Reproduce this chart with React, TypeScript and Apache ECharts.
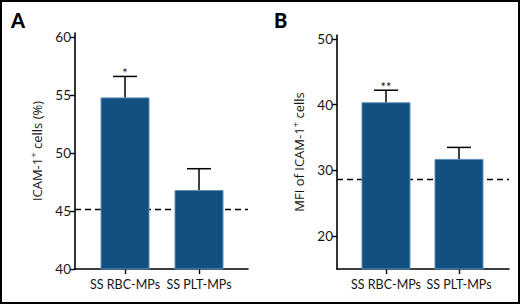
import React, { useEffect, useRef } from "react";
import * as echarts from "echarts";

const categories = ["SS RBC-MPs", "SS PLT-MPs"];
const meansA = [54.82, 46.82];
const errTopA = [56.63, 48.66];
const baselineA = 45.18;
const starsA = ["*", ""];
const ticksA = [40, 45, 50, 55, 60];

const meansB = [40.37, 31.75];
const errTopB = [42.2, 33.5];
const baselineB = 28.6;
const starsB = ["**", ""];
const ticksB = [20, 30, 40, 50];

const barColor = "#12507f";
const tickFont = "Lato, 'Open Sans', sans-serif";
const nameFont = "'Open Sans', 'Noto Sans', sans-serif";
const ink = "#151515";

function makeErrSeries(idx: number, means: number[], tops: number[], stars: string[]) {
  return {
    type: "custom",
    xAxisIndex: idx,
    yAxisIndex: idx,
    z: 5,
    data: means.map((m, i) => [i, m, tops[i]]),
    renderItem: (params: any, api: any) => {
      const x = api.value(0);
      const p1 = api.coord([x, api.value(1)]);
      const p2 = api.coord([x, api.value(2)]);
      const children: any[] = [
        { type: "line", shape: { x1: p1[0], y1: p1[1], x2: p2[0], y2: p2[1] }, style: { stroke: "#000", lineWidth: 1.5 } },
        { type: "line", shape: { x1: p2[0] - 12, y1: p2[1], x2: p2[0] + 12, y2: p2[1] }, style: { stroke: "#000", lineWidth: 1.5 } },
      ];
      const s = stars[params.dataIndex];
      if (s) {
        children.push({
          type: "text",
          x: p2[0],
          y: p2[1] + 3,
          style: { text: s, fill: ink, font: `13px ${tickFont}`, align: "center", verticalAlign: "bottom" },
        });
      }
      return { type: "group", children };
    },
  };
}

function makeBaseline(idx: number, v: number) {
  return {
    type: "line",
    xAxisIndex: idx,
    yAxisIndex: idx,
    z: 1,
    data: [],
    markLine: {
      z: 1,
      silent: true,
      symbol: "none",
      label: { show: false },
      lineStyle: { color: "#000", type: [6, 4], width: 1.3 },
      data: [{ yAxis: v }],
    },
  };
}

function makeBars(idx: number, means: number[]) {
  return {
    type: "bar",
    xAxisIndex: idx,
    yAxisIndex: idx,
    z: 2,
    barWidth: 49,
    data: means.map((m, i) => [i, m]),
    itemStyle: { color: barColor, borderColor: "#5d8fbf", borderWidth: 1 },
  };
}

function xAxisCfg(idx: number, min: number, max: number) {
  return {
    type: "value",
    gridIndex: idx,
    min,
    max,
    splitLine: { show: false },
    axisLine: { show: true, onZero: false, lineStyle: { color: "#000", width: 1.6 } },
    axisTick: { show: true, customValues: [0, 1], length: 5, lineStyle: { color: "#000", width: 1.4 } },
    axisLabel: {
      customValues: [0, 1],
      formatter: (v: number) => categories[Math.round(v)] ?? "",
      color: ink,
      fontFamily: tickFont,
      fontSize: 12.5,
      margin: 9,
    },
  };
}

function yAxisCfg(idx: number, min: number, max: number, ticks: number[], rich: string) {
  return {
    type: "value",
    gridIndex: idx,
    min,
    max,
    splitLine: { show: false },
    axisLine: { show: true, onZero: false, lineStyle: { color: "#000", width: 1.6 } },
    axisTick: { show: true, customValues: ticks, length: 5, lineStyle: { color: "#000", width: 1.4 } },
    axisLabel: { customValues: ticks, color: ink, fontFamily: tickFont, fontSize: 13.5, margin: 4 },
    name: rich,
    nameLocation: "middle",
    nameGap: 30,
    nameTextStyle: {
      color: ink,
      fontFamily: nameFont,
      fontSize: 13,
      rich: { sup: { fontSize: 9.5, verticalAlign: "top", padding: [0, 0, 7, 0], fontFamily: nameFont, color: ink } },
    },
  };
}

export default function App() {
  const ref = useRef<HTMLDivElement>(null);
  useEffect(() => {
    if (!ref.current) return;
    const chart = echarts.init(ref.current, undefined, { renderer: "svg" });
    chart.setOption({
      animation: false,
      backgroundColor: "#fff",
      grid: [
        { left: 75, right: 272, top: 33, bottom: 35 },
        { left: 337, right: 11, top: 35, bottom: 35 },
      ],
      xAxis: [xAxisCfg(0, -0.676, 1.662), xAxisCfg(1, -0.671, 1.685)],
      yAxis: [
        yAxisCfg(0, 40, 60.38, ticksA, "ICAM-1{sup|+} cells (%)"),
        yAxisCfg(1, 15, 50.6, ticksB, "MFI of ICAM-1{sup|+} cells"),
      ],
      graphic: [
        { type: "rect", shape: { x: 1, y: 1, width: 518, height: 302 }, style: { fill: "none", stroke: "#000", lineWidth: 2 } },
        { type: "text", left: 11, top: 10, style: { text: "A", font: `900 20px Lato, 'Noto Sans', sans-serif`, fill: "#000" } },
        { type: "text", left: 274, top: 10, style: { text: "B", font: `900 20px Lato, 'Noto Sans', sans-serif`, fill: "#000" } },
      ],
      series: [
        makeBaseline(0, baselineA),
        makeBars(0, meansA),
        makeErrSeries(0, meansA, errTopA, starsA),
        makeBaseline(1, baselineB),
        makeBars(1, meansB),
        makeErrSeries(1, meansB, errTopB, starsB),
      ],
    });
    return () => chart.dispose();
  }, []);
  return <div ref={ref} style={{ position: "absolute", left: 0, top: 0, width: 520, height: 304 }} />;
}
